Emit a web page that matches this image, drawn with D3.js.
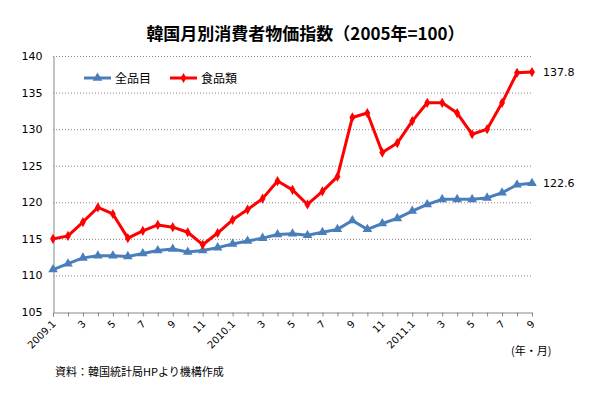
<!DOCTYPE html>
<html>
<head>
<meta charset="utf-8">
<script src="https://cdn.jsdelivr.net/npm/d3@7/dist/d3.min.js"></script>
<style>
  body { margin: 0; background: #fff; }
  text { font-family: "Noto Sans CJK JP", "Noto Sans", sans-serif; }
</style>
</head>
<body>
<div id="chart"></div>
<script>
// months 2009.1 - 2011.9
const months = d3.range(33).map(i => {
  const y = 2009 + Math.floor(i / 12), m = i % 12 + 1;
  return {year: y, month: m};
});

const allItems = [110.8, 111.6, 112.4, 112.7, 112.7, 112.6, 113.0, 113.4, 113.6, 113.2, 113.4, 113.8,
                  114.3, 114.7, 115.1, 115.6, 115.7, 115.5, 115.9, 116.3, 117.5, 116.3, 117.1, 117.8,
                  118.8, 119.7, 120.4, 120.4, 120.4, 120.6, 121.3, 122.4, 122.6];

const food = [115.0, 115.4, 117.3, 119.3, 118.4, 115.1, 116.1, 116.9, 116.6, 115.9, 114.2, 115.8,
              117.6, 119.0, 120.5, 122.9, 121.7, 119.7, 121.5, 123.5, 131.6, 132.2, 126.8, 128.1,
              131.1, 133.6, 133.6, 132.2, 129.3, 130.0, 133.6, 137.7, 137.8];

const yTicks = [105, 110, 115, 120, 125, 130, 135, 140];

const seriesList = [
  {name: '全品目', values: allItems, color: '#4a7ebb', marker: 'triangle'},
  {name: '食品類', values: food, color: '#ff0000', marker: 'diamond'}
];

let width = 595,
    height = 393,
    margin = {top: 56, left: 53, bottom: 81, right: 63};

let svg = d3.select('#chart')
  .append('svg')
  .attr('width', width)
  .attr('height', height);

let x = d3.scaleLinear()
  .domain([0, months.length - 1])
  .range([margin.left, width - margin.right]);

let y = d3.scaleLinear()
  .domain([105, 140])
  .range([height - margin.bottom, margin.top]);

// title
svg.append('text')
  .attr('x', 305.5)
  .attr('y', 40)
  .attr('text-anchor', 'middle')
  .style('font-size', '17px')
  .style('font-weight', 'bold')
  .text('韓国月別消費者物価指数（2005年=100）');

// gridlines
svg.append('g')
  .selectAll('line')
  .data(yTicks.filter(d => d > 105))
  .enter()
  .append('line')
  .attr('x1', margin.left)
  .attr('x2', width - margin.right)
  .attr('y1', d => y(d) + 0.5)
  .attr('y2', d => y(d) + 0.5)
  .attr('stroke', '#888')
  .attr('stroke-width', 1)
  .attr('stroke-dasharray', '1,2');

// y axis
let yAxis = svg.append('g')
  .attr('transform', `translate(${margin.left + 0.5},0)`)
  .call(d3.axisLeft(y).tickValues(yTicks).tickSize(0).tickPadding(11));
yAxis.select('.domain').attr('stroke', '#888');
yAxis.selectAll('text')
  .style('font-family', '"DejaVu Sans", sans-serif')
  .style('font-size', '11px')
  .attr('fill', '#000');

// x axis
let xAxis = svg.append('g')
  .attr('transform', `translate(0,${height - margin.bottom + 0.5})`)
  .call(d3.axisBottom(x)
    .tickValues(d3.range(months.length))
    .tickSize(4)
    .tickFormat(i => {
      const d = months[i];
      if (d.month % 2 === 0) return '';
      return d.month === 1 ? `${d.year}.1` : `${d.month}`;
    }));
xAxis.select('.domain').attr('stroke', '#888');
xAxis.selectAll('.tick line').attr('stroke', '#888');
xAxis.selectAll('text')
  .style('font-family', '"DejaVu Sans", sans-serif')
  .style('font-size', '10px')
  .attr('fill', '#000')
  .attr('text-anchor', 'end')
  .attr('dy', null)
  .attr('y', 0)
  .attr('transform', 'translate(3,12) rotate(-45)');

// lines and markers
let line = d3.line()
  .x((d, i) => x(i))
  .y(d => y(d));

seriesList.forEach(s => {
  svg.append('path')
    .datum(s.values)
    .attr('fill', 'none')
    .attr('stroke', s.color)
    .attr('stroke-width', 3)
    .attr('stroke-linejoin', 'round')
    .attr('d', line);

  let symbol = s.marker === 'triangle'
    ? d3.symbol().type(d3.symbolTriangle).size(40)
    : d3.symbol().type(d3.symbolDiamond).size(30);

  svg.append('g')
    .selectAll('path')
    .data(s.values)
    .enter()
    .append('path')
    .attr('transform', (d, i) => `translate(${x(i)},${y(d)})`)
    .attr('d', symbol)
    .attr('fill', s.color);

  // last value label
  let last = s.values[s.values.length - 1];
  svg.append('text')
    .attr('x', x(s.values.length - 1) + 11)
    .attr('y', y(last) + 4)
    .style('font-family', '"DejaVu Sans", sans-serif')
    .style('font-size', '11px')
    .text(last.toFixed(1));
});

// legend
let legend = svg.append('g');
seriesList.forEach((s, i) => {
  let lx = 84 + i * 86, ly = 78;
  legend.append('line')
    .attr('x1', lx).attr('x2', lx + 27)
    .attr('y1', ly).attr('y2', ly)
    .attr('stroke', s.color)
    .attr('stroke-width', 3);
  legend.append('path')
    .attr('transform', `translate(${lx + 13.5},${ly})`)
    .attr('d', s.marker === 'triangle'
      ? d3.symbol().type(d3.symbolTriangle).size(40)
      : d3.symbol().type(d3.symbolDiamond).size(30))
    .attr('fill', s.color);
  legend.append('text')
    .attr('x', lx + 31)
    .attr('y', ly + 5)
    .style('font-size', '12px')
    .text(s.name);
});

// unit label
svg.append('text')
  .attr('x', 511)
  .attr('y', 355)
  .style('font-size', '11px')
  .text('(年・月)');

// source
svg.append('text')
  .attr('x', 55)
  .attr('y', 376)
  .style('font-size', '11px')
  .text('資料：韓国統計局HPより機構作成');
</script>
</body>
</html>
